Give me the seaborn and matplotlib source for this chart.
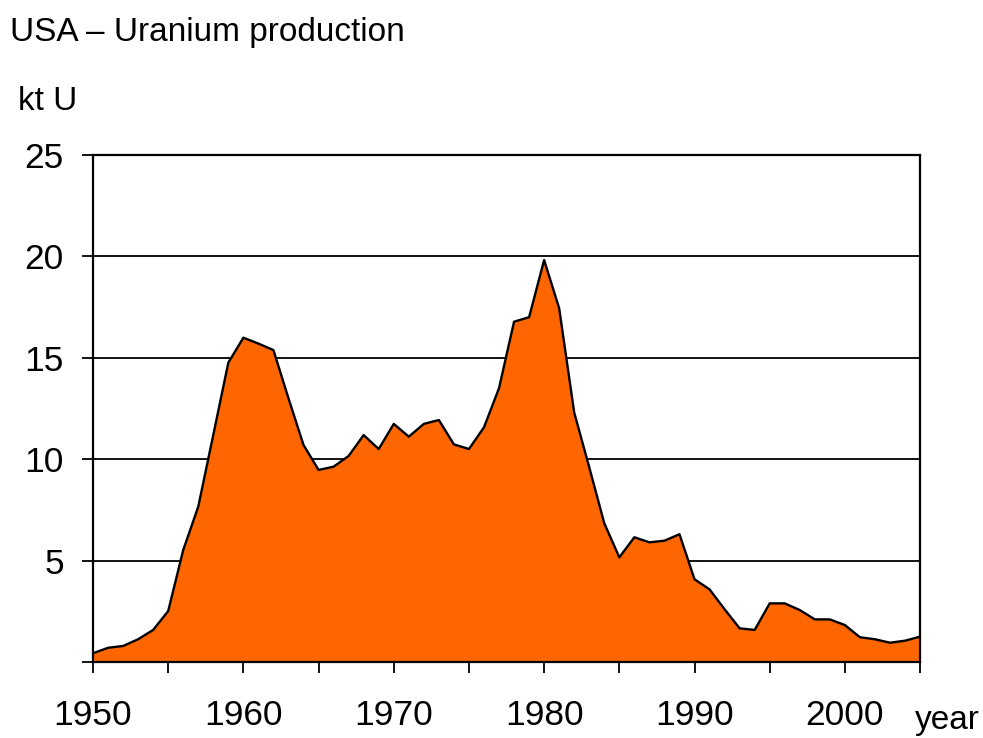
import matplotlib
matplotlib.use("Agg")
import matplotlib.pyplot as plt
import numpy as np
import pandas as pd
import seaborn as sns

# USA uranium production, kt U
years = list(range(1950, 2006))
production = [
    0.43, 0.70, 0.79, 1.12, 1.58, 2.51, 5.52, 7.66, 11.2, 14.76,
    15.99, 15.70, 15.38, 13.00, 10.70, 9.47, 9.63, 10.16, 11.19, 10.50,
    11.74, 11.11, 11.74, 11.93, 10.73, 10.50, 11.57, 13.50, 16.78, 17.00,
    19.82, 17.44, 12.30, 9.60, 6.84, 5.16, 6.15, 5.90, 5.98, 6.30,
    4.08, 3.58, 2.60, 1.66, 1.58, 2.89, 2.89, 2.56, 2.10, 2.10,
    1.82, 1.22, 1.12, 0.95, 1.05, 1.25,
]
x_ticks = list(range(1950, 2006, 5))
x_labels = [str(y) if y % 10 == 0 and y <= 2000 else "" for y in x_ticks]
y_ticks = [0, 5, 10, 15, 20, 25]
y_labels = ["" if v == 0 else str(v) for v in y_ticks]

df = pd.DataFrame({"year": years, "kt U": production})

sns.set_theme(style="white")
plt.rcParams["font.family"] = ["Liberation Sans", "DejaVu Sans"]
plt.rcParams["text.color"] = "black"

fig = plt.figure(figsize=(9.83, 7.38), dpi=100)
ax = fig.add_axes([0.0946, 0.103, 0.8414, 0.687])

# orange area with a black outline on top
ax.fill_between(df["year"], df["kt U"], 0, color="#FF6600", lw=0, zorder=2)
sns.lineplot(data=df, x="year", y="kt U", color="black", lw=1.7, ax=ax, zorder=3)

ax.set_xlim(1950, 2005)
ax.set_ylim(0, 25)
for v in y_ticks[1:]:
    ax.axhline(v, color="black", lw=1.3, zorder=1)

ax.set_xticks(x_ticks)
ax.set_xticklabels(x_labels)
ax.set_yticks(y_ticks)
ax.set_yticklabels(y_labels)
ax.tick_params(axis="both", direction="out", length=8, width=1.3, colors="black",
               labelcolor="black", labelsize=25.5, bottom=True, left=True)
ax.tick_params(axis="x", pad=19)
ax.tick_params(axis="y", pad=13)
ax.set_xlabel("")
ax.set_ylabel("")

for side, sp in ax.spines.items():
    sp.set_color("black")
    sp.set_linewidth(1.6)
    sp.set_zorder(4)

fig.text(0.010, 0.944, "USA – Uranium production", fontsize=24, color="black",
         ha="left", va="baseline")
fig.text(0.018, 0.851, "kt U", fontsize=24, color="black", ha="left", va="baseline")
fig.text(0.931, 0.012, "year", fontsize=24, color="black", ha="left", va="baseline")

fig.savefig("out.png", dpi=100)
